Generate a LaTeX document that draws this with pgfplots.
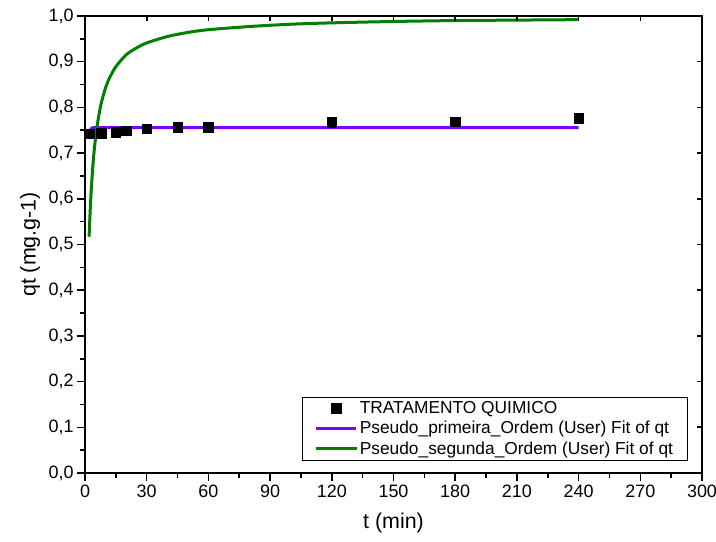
\documentclass[border=0pt]{standalone}
\usepackage{pgfplots}
\pgfplotsset{compat=1.18}
\usepackage{fontspec}
\setmainfont{Liberation Sans}
\definecolor{fitpurple}{RGB}{128,0,255}
\definecolor{fitgreen}{RGB}{0,128,0}
\begin{document}
\begin{tikzpicture}
\useasboundingbox (-85bp,-69bp) rectangle (631bp,473bp);
\pgfplotsset{
  commonax/.style={
    width=617bp, height=457bp, scale only axis,
    xmin=0, xmax=300, ymin=0, ymax=1,
    xtick={0,30,...,300}, ytick={0,0.1,...,1.01},
    axis line style={line width=2bp},
    every tick/.style={black, line width=1.6bp},
    /pgf/number format/assume math mode=true,
  }
}
\begin{axis}[commonax, name=main,
  font=\fontsize{18}{21.6}\selectfont,
  minor x tick num=1, minor y tick num=1,
  xtick pos=left, ytick pos=left,
  tick align=outside,
  major tick length=8bp, minor tick length=5bp,
  xticklabel style={/pgf/number format/.cd, fixed, precision=0},
  yticklabel style={/pgf/number format/.cd, fixed, fixed zerofill, precision=1, use comma},
  xlabel={t (min)}, ylabel={qt (mg.g-1)},
  label style={font=\fontsize{21.5}{25}\selectfont},
  xlabel style={at={(rel axis cs:0.5,0)}, anchor=center, yshift=-50bp},
  ylabel style={at={(rel axis cs:0,0.5)}, anchor=center, rotate=0, yshift=55bp},
  legend style={at={(rel axis cs:0.976,0.028)}, anchor=south east, draw=black, thin,
    font=\fontsize{17.4}{21}\selectfont, row sep=2.5bp, inner xsep=12bp, inner ysep=2bp},
  legend cell align=left,
  legend image code/.code={\draw[mark repeat=2,mark phase=2,#1] plot coordinates {(0cm,0cm) (0.72cm,0cm) (1.44cm,0cm)};},
]
\addplot[only marks, mark=square*, mark size=4.8bp, black, line width=0.5pt] coordinates {
(2,0.742) (8,0.744) (15,0.745) (20,0.749) (30,0.753) (45,0.756) (60,0.757)
(120,0.767) (180,0.769) (240,0.776)
};
\addlegendentry{TRATAMENTO QUIMICO}
\addplot[fitpurple, line width=3bp, no marks, line join=round] coordinates {
(2,0.739) (2.25,0.745) (2.5,0.7495) (2.75,0.752) (3,0.7535) (3.5,0.7551) (4,0.7556) (5,0.7559) (6,0.756) (240,0.756)
};
\addlegendentry{Pseudo\_primeira\_Ordem (User) Fit of qt}
\addplot[fitgreen, line width=3bp, no marks, smooth] coordinates {
(2,0.517) (2.5,0.572) (3,0.616) (4,0.682) (5,0.728) (6,0.762) (7,0.789) (8,0.811)
(10,0.843) (12,0.865) (15,0.889) (20,0.915) (25,0.930) (30,0.941) (40,0.955)
(50,0.964) (60,0.970) (80,0.977) (100,0.982) (120,0.985) (150,0.988)
(180,0.990) (210,0.991) (240,0.992)
};
\addlegendentry{Pseudo\_segunda\_Ordem (User) Fit of qt}
\end{axis}
\begin{axis}[commonax,
  xtick pos=right, ytick pos=right, tick align=inside,
  major tick length=5bp,
  xticklabels={}, yticklabels={},
]
\end{axis}
\end{tikzpicture}
\end{document}
